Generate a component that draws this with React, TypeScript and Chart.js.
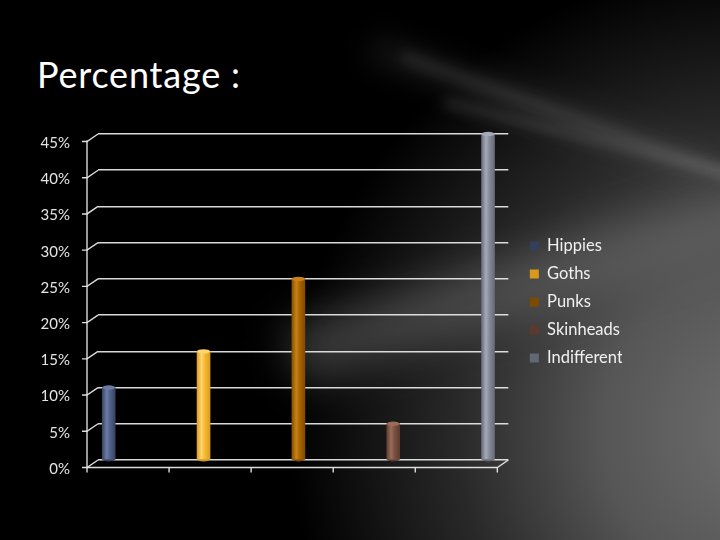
import React, { useEffect, useRef } from "react";
import { Chart, registerables } from "chart.js";

Chart.register(...registerables);

const seriesNames = ["Hippies", "Goths", "Punks", "Skinheads", "Indifferent"];
const seriesValues = [10, 15, 25, 5, 45];
const seriesSlots = [1, 2, 3, 4, 5];
const baseColors = ["#52618a", "#f6b832", "#a86300", "#7a5040", "#868a98"];
const lightColors = ["#6b7ba3", "#ffd56e", "#c98314", "#9a6c5a", "#a6aab8"];
const darkColors = ["#343f5c", "#d99a1c", "#7e4a00", "#5a3a2e", "#646875"];
const yMin = 0;
const yMax = 45;
const yStep = 5;

const DX = 11;
const DY = 7.5;

const frame3d = {
  id: "frame3d",
  beforeDatasetsDraw(chart: any) {
    const { ctx, chartArea, scales } = chart;
    const { left, right, top, bottom } = chartArea;
    const y = scales.y;
    ctx.save();
    ctx.strokeStyle = "rgba(232,232,232,0.95)";
    ctx.lineWidth = 1.4;
    const fl = left - DX;
    const fr = right - DX;
    ctx.beginPath();
    ctx.moveTo(fl, top + DY - 1);
    ctx.lineTo(fl, bottom + DY);
    ctx.stroke();
    y.ticks.forEach((t: any) => {
      const py = y.getPixelForValue(t.value);
      ctx.beginPath();
      ctx.moveTo(fl - 5, py + DY);
      ctx.lineTo(fl, py + DY);
      ctx.lineTo(left, py);
      ctx.stroke();
    });
    ctx.beginPath();
    ctx.moveTo(fl, bottom + DY);
    ctx.lineTo(fr, bottom + DY);
    ctx.lineTo(right, bottom);
    ctx.stroke();
    for (let i = 0; i <= seriesNames.length; i++) {
      const px = fl + ((fr - fl) * i) / seriesNames.length;
      ctx.beginPath();
      ctx.moveTo(px, bottom + DY);
      ctx.lineTo(px, bottom + DY + 5);
      ctx.stroke();
    }
    ctx.restore();
  },
  afterDatasetsDraw(chart: any) {
    const { ctx } = chart;
    ctx.save();
    chart.data.datasets.forEach((ds: any, di: number) => {
      const meta = chart.getDatasetMeta(di);
      meta.data.forEach((el: any) => {
        const w = el.width;
        if (!isFinite(el.x) || !isFinite(el.y)) return;
        ctx.beginPath();
        ctx.ellipse(el.x, el.y, w / 2, 2.2, 0, 0, Math.PI * 2);
        ctx.fillStyle = lightColors[di];
        ctx.fill();
        ctx.beginPath();
        ctx.ellipse(el.x, el.base, w / 2, 2.2, 0, 0, Math.PI);
        ctx.fillStyle = darkColors[di];
        ctx.fill();
      });
    });
    ctx.restore();
  },
};

function cylinderFill(i: number) {
  return (c: any) => {
    if (c.type !== "data" || !c.chart.scales || !c.chart.scales.x) return baseColors[i];
    const x = c.chart.scales.x.getPixelForValue(seriesSlots[i]);
    if (!isFinite(x)) return baseColors[i];
    const g = c.chart.ctx.createLinearGradient(x - 7, 0, x + 7, 0);
    g.addColorStop(0, darkColors[i]);
    g.addColorStop(0.35, lightColors[i]);
    g.addColorStop(0.6, baseColors[i]);
    g.addColorStop(1, darkColors[i]);
    return g;
  };
}

export default function App() {
  const ref = useRef<HTMLCanvasElement>(null);
  useEffect(() => {
    if (!ref.current) return;
    const datasets = seriesNames.map((name, i) => ({
      label: name,
      data: [{ x: seriesSlots[i], y: seriesValues[i] }],
      backgroundColor: cylinderFill(i),
      borderWidth: 0,
      barThickness: 13,
      grouped: false,
    }));
    const chart = new Chart(ref.current, {
      type: "bar",
      data: { datasets },
      plugins: [frame3d],
      options: {
        responsive: false,
        animation: false,
        layout: { padding: { left: 0, right: 98, top: 134, bottom: 80 } },
        scales: {
          x: {
            type: "linear",
            min: 0.887,
            max: 5.214,
            display: false,
            offset: false,
          },
          y: {
            min: yMin,
            max: yMax,
            afterFit: (s: any) => {
              s.width = 98;
            },
            ticks: {
              stepSize: yStep,
              padding: 28,
              labelOffset: 9,
              color: "#e4e4e4",
              font: { family: "Lato", size: 15 },
              callback: (v: any) => v + "%",
            },
            grid: { color: "rgba(236,236,236,0.92)", lineWidth: 1.5, drawTicks: false },
            border: { display: false },
          },
          y2: {
            position: "right",
            display: true,
            afterFit: (s: any) => {
              s.width = 10;
            },
            ticks: { display: false },
            grid: { display: false },
            border: { display: false },
          },
        },
        plugins: {
          legend: {
            position: "right",
            align: "center",
            title: { display: true, text: " ", font: { size: 1 }, padding: { top: 0, bottom: 9 } },
            labels: {
              boxWidth: 9,
              boxHeight: 9,
              padding: 11.5,
              color: "#f0f0f0",
              font: { family: "Lato", size: 16.5 },
            },
          },
          tooltip: { enabled: false },
        },
      } as any,
    });
    return () => chart.destroy();
  }, []);

  return (
    <div
      style={{
        position: "absolute",
        left: 0,
        top: 0,
        width: 720,
        height: 540,
        overflow: "hidden",
        background: "#000",
      }}
    >
      <div
        style={{
          position: "absolute",
          inset: 0,
          background:
            "radial-gradient(ellipse 480px 470px at 770px 430px, rgba(112,112,112,1) 0%, rgba(86,86,86,1) 35%, rgba(48,48,48,0.85) 65%, rgba(0,0,0,0) 100%)",
        }}
      />
      <div
        style={{
          position: "absolute",
          left: 280,
          top: 250,
          width: 520,
          height: 60,
          background: "rgba(110,110,110,0.48)",
          transform: "rotate(-17deg)",
          filter: "blur(20px)",
        }}
      />
      <div
        style={{
          position: "absolute",
          left: 390,
          top: 120,
          width: 400,
          height: 9,
          background: "rgba(180,180,180,0.22)",
          transform: "rotate(20deg)",
          filter: "blur(7px)",
        }}
      />
      <div
        style={{
          position: "absolute",
          left: 440,
          top: 140,
          width: 340,
          height: 7,
          background: "rgba(200,200,200,0.2)",
          transform: "rotate(14deg)",
          filter: "blur(6px)",
        }}
      />
      <div
        style={{
          position: "absolute",
          left: 360,
          top: 95,
          width: 360,
          height: 28,
          background: "rgba(120,120,120,0.16)",
          transform: "rotate(20deg)",
          filter: "blur(14px)",
        }}
      />
      <div
        style={{
          position: "absolute",
          left: 37,
          top: 57,
          fontFamily: "Lato",
          fontSize: 36,
          fontWeight: 400,
          letterSpacing: "0.8px",
          lineHeight: "35px",
          color: "#ffffff",
          whiteSpace: "nowrap",
        }}
      >
        Percentage :
      </div>
      <canvas
        ref={ref}
        width={720}
        height={540}
        style={{ position: "absolute", left: 0, top: 0, width: 720, height: 540 }}
      />
    </div>
  );
}
